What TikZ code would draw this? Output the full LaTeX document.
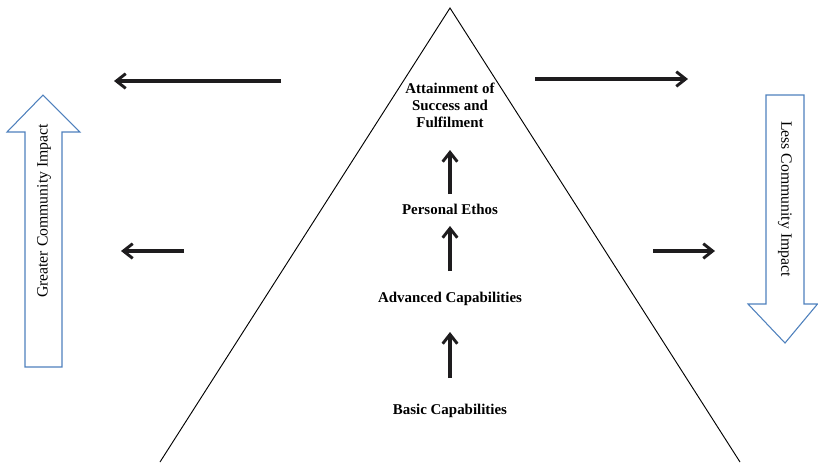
\documentclass[tikz,border=0pt]{standalone}
\usepackage{fontspec}
\setmainfont{Liberation Serif}
\usetikzlibrary{arrows.meta}
\definecolor{officeblue}{HTML}{4F81BD}
\begin{document}
\begin{tikzpicture}[x=0.75pt,y=-0.75pt,
  thickarrow/.style={line width=3pt,draw={rgb,255:red,30;green,28;blue,30},-{Straight Barb[length=7pt,width=11pt,line width=2.2pt]}},
  lbl/.style={font=\bfseries\fontsize{11.2}{12.8}\selectfont,align=center,inner sep=0pt},
  blockarrow/.style={draw=officeblue,line width=0.8pt,fill=white},
  sidetext/.style={font=\fontsize{11.8}{13}\selectfont,inner sep=0pt}]
\useasboundingbox (0,0) rectangle (818,462);
% pyramid
\coordinate (apex) at (450,8);
\coordinate (bl) at (160,462);
\coordinate (br) at (740,462);
\draw[line width=0.7pt] (bl) -- (apex) -- (br);
% labels
\node[lbl] (top) at (450,105) {Attainment of\\Success and\\Fulfilment};
\node[lbl] (ethos) at (450,209) {Personal Ethos};
\node[lbl] (adv) at (450,299) {Advanced Capabilities};
\node[lbl] (basic) at (450,411) {Basic Capabilities};
% vertical arrows
\coordinate (v1s) at (450,194); \coordinate (v1e) at (450,150);
\coordinate (v2s) at (450,271); \coordinate (v2e) at (450,226);
\coordinate (v3s) at (450,378); \coordinate (v3e) at (450,332);
\draw[thickarrow] (v1s) -- (v1e);
\draw[thickarrow] (v2s) -- (v2e);
\draw[thickarrow] (v3s) -- (v3e);
% horizontal arrows
\coordinate (h1s) at (281,81); \coordinate (h1e) at (114,81);
\coordinate (h2s) at (184,251); \coordinate (h2e) at (121,251);
\coordinate (h3s) at (535,79); \coordinate (h3e) at (688,79);
\coordinate (h4s) at (653,251); \coordinate (h4e) at (715,251);
\draw[thickarrow] (h1s) -- (h1e);
\draw[thickarrow] (h2s) -- (h2e);
\draw[thickarrow] (h3s) -- (h3e);
\draw[thickarrow] (h4s) -- (h4e);
% left block arrow (up)
\draw[blockarrow] (25,367) -- (25,132) -- (7,132) -- (43,95) -- (80,132) -- (62,132) -- (62,367) -- cycle;
\node[sidetext,rotate=90] (greater) at (44,211) {Greater Community Impact};
% right block arrow (down)
\draw[blockarrow] (766,95) -- (804,95) -- (804,304) -- (817.5,304) -- (785,343) -- (748,304) -- (766,304) -- cycle;
\node[sidetext,rotate=-90] (less) at (785,199) {Less Community Impact};
\end{tikzpicture}
\end{document}
